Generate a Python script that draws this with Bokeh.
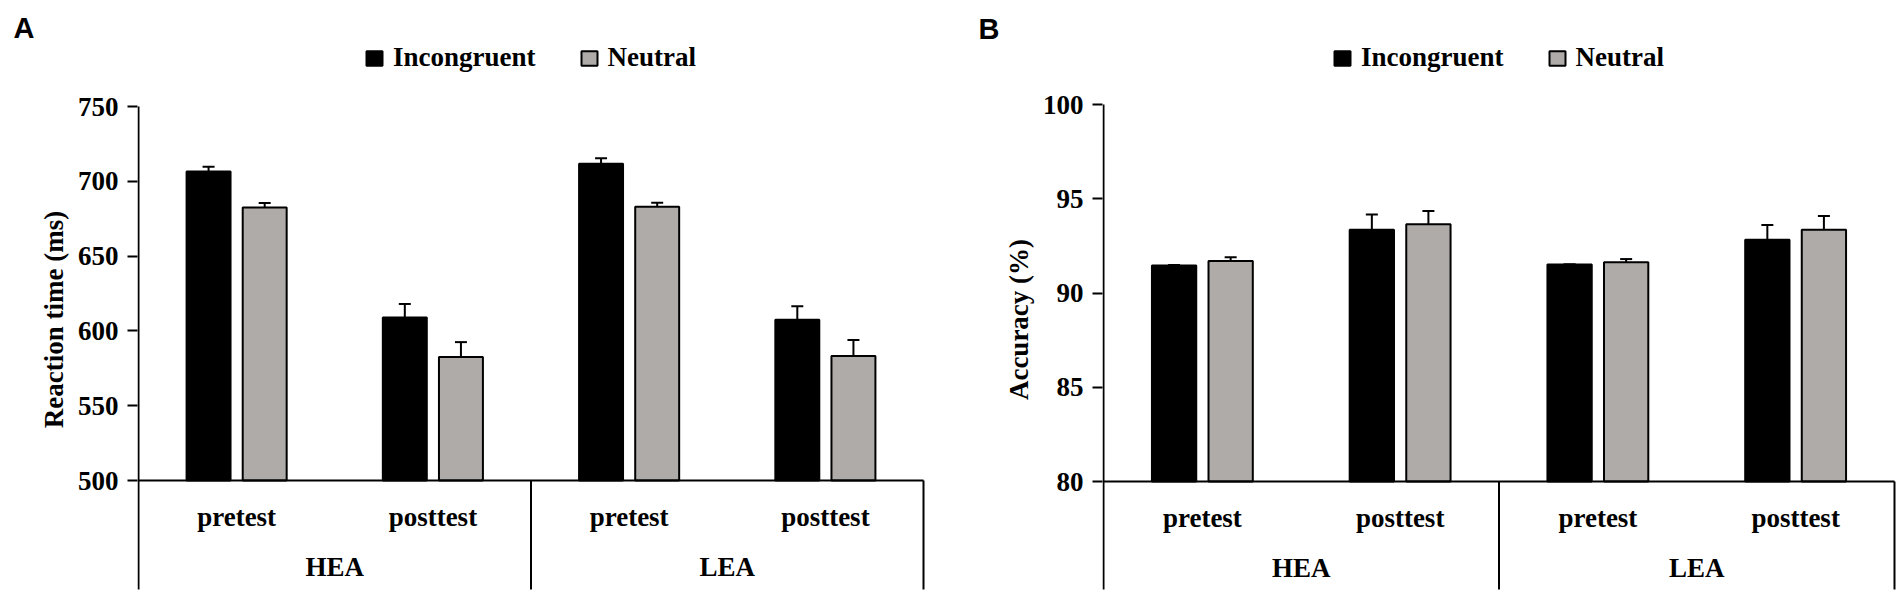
from bokeh.plotting import figure
from bokeh.models import (Range1d, FixedTicker, Whisker, TeeHead, ColumnDataSource,
                          Legend, LegendItem, Title)
from bokeh.layouts import row
from bokeh.embed import file_html
from bokeh.resources import INLINE

# ---------------- data ----------------
groups = ["HEA", "HEA", "LEA", "LEA"]
sessions = ["pretest", "posttest", "pretest", "posttest"]
series_names = ["Incongruent", "Neutral"]

rt_incongruent = [706.5, 609.0, 711.8, 607.4]
rt_incongruent_err = [3.3, 9.0, 3.6, 9.0]
rt_neutral = [682.5, 582.5, 683.0, 583.3]
rt_neutral_err = [3.0, 10.0, 2.6, 10.7]
rt_ticks = [500, 550, 600, 650, 700, 750]

acc_incongruent = [91.46, 93.36, 91.51, 92.83]
acc_incongruent_err = [0.03, 0.80, 0.00, 0.78]
acc_neutral = [91.70, 93.65, 91.63, 93.36]
acc_neutral_err = [0.20, 0.70, 0.17, 0.73]
acc_ticks = [80, 85, 90, 95, 100]

BLACK = "#000000"
GRAY = "#AFABA9"
SERIF = "Liberation Serif"
SANS = "Liberation Sans"
FS = "27px"
W, H = 952, 596
BOX_BOTTOM = 589
LABEL_CENTER = 292.5


def panel(letter, ylabel, ticks, inc, inc_err, neu, neu_err, T, letter_standoff,
          top_px, base_px, axis_px, group_px, legend_xy):
    ybase, ytop = ticks[0], ticks[-1]
    upp = (ytop - ybase) / (base_px - top_px)          # data units per pixel
    ystart = ybase - (H - base_px) * upp
    yend = ytop + (top_px - T) * upp
    ybox = ybase - (BOX_BOTTOM - base_px) * upp
    n = len(sessions)
    xstart = -1.0 / group_px
    xend = n + 2.0 / group_px
    left = axis_px - 1
    frame_w = int(round((xend - xstart) * group_px))

    p = figure(width=W, height=H, output_backend="svg", toolbar_location=None,
               x_range=Range1d(xstart, xend), y_range=Range1d(ystart, yend),
               min_border_left=left, min_border_right=max(W - left - frame_w, 0),
               min_border_top=T, min_border_bottom=0)
    p.background_fill_color = "white"
    p.border_fill_color = "white"
    p.outline_line_color = None
    p.grid.visible = False
    p.xaxis.visible = False

    # panel letter
    p.title.text = letter
    p.title.align = "left"
    p.title.offset = -124
    p.title.standoff = letter_standoff
    p.title.text_font = SANS
    p.title.text_font_style = "bold"
    p.title.text_font_size = "29px"
    p.title.text_color = BLACK

    ax = p.yaxis[0]
    ax.ticker = FixedTicker(ticks=ticks)
    ax.major_label_text_font = SERIF
    ax.major_label_text_font_style = "bold"
    ax.major_label_text_font_size = FS
    ax.major_label_text_color = BLACK
    ax.major_label_standoff = 9
    ax.axis_line_color = None
    ax.major_tick_line_color = BLACK
    ax.major_tick_line_width = 2
    ax.major_tick_out = 10
    ax.major_tick_in = 0
    ax.minor_tick_line_color = None
    p.add_layout(Title(text=ylabel, align="center", offset=(T + H) / 2 - LABEL_CENTER,
                       text_font=SERIF, text_font_style="bold",
                       text_font_size=FS, text_color=BLACK, standoff=12), "left")

    # axis line (stops at the top tick, runs down to the category box bottom)
    p.segment(x0=[0], y0=[ybox], x1=[0], y1=[ytop], line_color=BLACK, line_width=2)

    off = 0.143
    bw = 0.224
    centers = [i + 0.5 for i in range(n)]
    src_i = ColumnDataSource(dict(x=[c - off for c in centers], top=inc,
                                  upper=[v + e for v, e in zip(inc, inc_err)],
                                  lower=[v - e for v, e in zip(inc, inc_err)]))
    src_n = ColumnDataSource(dict(x=[c + off for c in centers], top=neu,
                                  upper=[v + e for v, e in zip(neu, neu_err)],
                                  lower=[v - e for v, e in zip(neu, neu_err)]))
    r_i = p.vbar(x="x", top="top", bottom=ybase, width=bw, source=src_i,
                 fill_color=BLACK, line_color=BLACK, line_width=2)
    r_n = p.vbar(x="x", top="top", bottom=ybase, width=bw, source=src_n,
                 fill_color=GRAY, line_color=BLACK, line_width=2)
    for src in (src_i, src_n):
        p.add_layout(Whisker(base="x", upper="upper", lower="lower", source=src,
                             line_color=BLACK, line_width=2,
                             upper_head=TeeHead(size=12, line_width=2, line_color=BLACK),
                             lower_head=TeeHead(size=12, line_width=2, line_color=BLACK)))

    # category box below the baseline
    p.segment(x0=[0], y0=[ybase], x1=[n], y1=[ybase], line_color=BLACK, line_width=2)
    bounds = [i for i in range(1, n) if groups[i] != groups[i - 1]] + [n]
    p.segment(x0=bounds, y0=[ybox] * len(bounds), x1=bounds, y1=[ybase] * len(bounds),
              line_color=BLACK, line_width=2)

    p.text(x=centers, y=[ybase] * n, text=sessions, y_offset=36,
           text_align="center", text_baseline="middle",
           text_font={"value": SERIF}, text_font_style="bold",
           text_font_size=FS, text_color=BLACK)
    uniq = list(dict.fromkeys(groups))
    gx = [sum(centers[i] for i in range(n) if groups[i] == g) /
          groups.count(g) for g in uniq]
    p.text(x=gx, y=[ybase] * len(uniq), text=uniq, y_offset=86,
           text_align="center", text_baseline="middle",
           text_font={"value": SERIF}, text_font_style="bold",
           text_font_size=FS, text_color=BLACK)

    leg = Legend(items=[LegendItem(label=series_names[0], renderers=[r_i]),
                        LegendItem(label=series_names[1], renderers=[r_n])],
                 location=legend_xy, orientation="horizontal",
                 glyph_width=20, glyph_height=18, label_standoff=9, spacing=43,
                 padding=0, margin=0, border_line_color=None,
                 background_fill_alpha=0,
                 label_text_font=SERIF, label_text_font_style="bold",
                 label_text_font_size=FS, label_text_color=BLACK)
    p.add_layout(leg)
    return p


pA = panel("A", "Reaction time (ms)", rt_ticks, rt_incongruent, rt_incongruent_err,
           rt_neutral, rt_neutral_err, T=42, letter_standoff=-3,
           top_px=106, base_px=480, axis_px=138, group_px=196.25,
           legend_xy=(227, 523))
pB = panel("B", "Accuracy (%)", acc_ticks, acc_incongruent, acc_incongruent_err,
           acc_neutral, acc_neutral_err, T=42, letter_standoff=-5,
           top_px=104, base_px=481, axis_px=151, group_px=197.7,
           legend_xy=(230, 523))

layout = row(pA, pB)
open("out.html", "w").write(file_html(layout, INLINE))
